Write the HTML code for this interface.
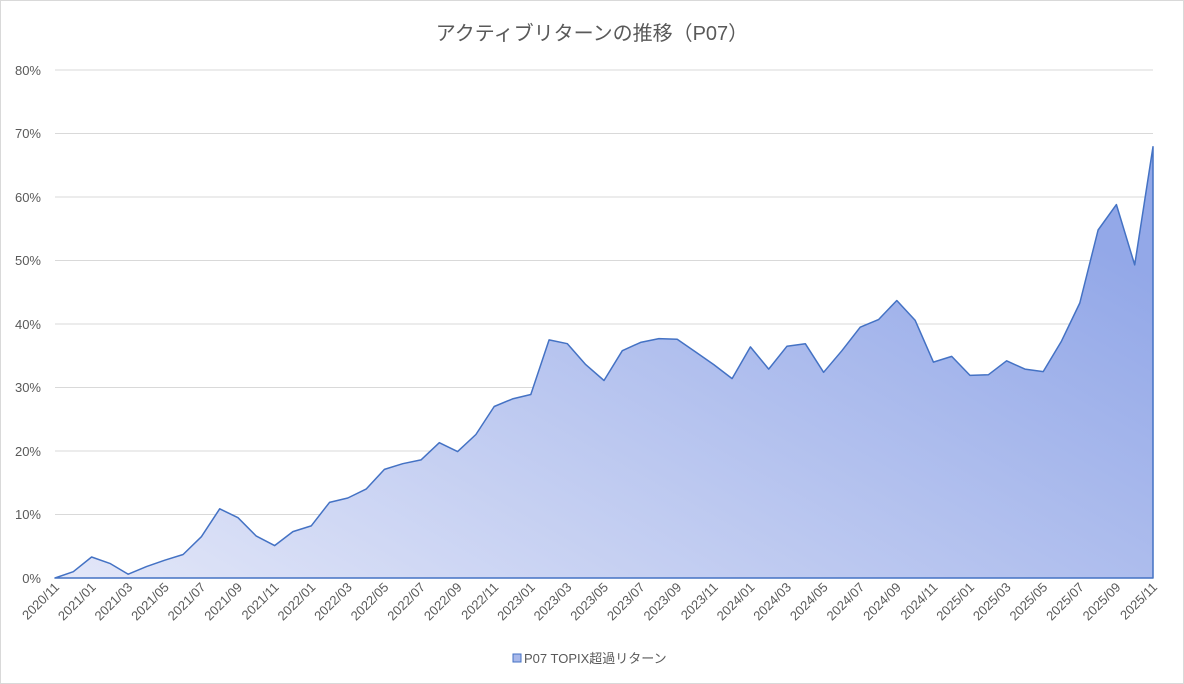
<!DOCTYPE html>
<html><head><meta charset="utf-8"><style>
html,body{margin:0;padding:0;background:#fff}
svg{display:block}
text{font-family:"Liberation Sans","Noto Sans CJK JP",sans-serif;fill:#595959}
</style></head><body>
<svg width="1184" height="684" viewBox="0 0 1184 684">
<defs><linearGradient id="g" x1="0" y1="1" x2="1" y2="0.3"><stop offset="0" stop-color="#e3e7f8"/><stop offset="1" stop-color="#93a8e8"/></linearGradient></defs>
<rect x="0.5" y="0.5" width="1183" height="683" fill="#fff" stroke="#d9d9d9"/>
<text x="592" y="40" font-size="20" text-anchor="middle">アクティブリターンの推移（P07）</text>
<g stroke="#d9d9d9" stroke-width="1">
<line x1="55" x2="1153" y1="70" y2="70"/><line x1="55" x2="1153" y1="133.5" y2="133.5"/><line x1="55" x2="1153" y1="197" y2="197"/><line x1="55" x2="1153" y1="260.5" y2="260.5"/><line x1="55" x2="1153" y1="324" y2="324"/><line x1="55" x2="1153" y1="387.5" y2="387.5"/><line x1="55" x2="1153" y1="451" y2="451"/><line x1="55" x2="1153" y1="514.5" y2="514.5"/><line x1="55" x2="1153" y1="578" y2="578"/>
</g>
<g font-size="13" text-anchor="end">
<text x="41" y="75">80%</text><text x="41" y="138">70%</text><text x="41" y="202">60%</text><text x="41" y="265">50%</text><text x="41" y="329">40%</text><text x="41" y="392">30%</text><text x="41" y="456">20%</text><text x="41" y="519">10%</text><text x="41" y="583">0%</text>
</g>
<path d="M55,578 L73.3,571.7 91.6,557 109.9,563.4 128.2,574.2 146.5,566.6 164.8,560.2 183.1,554.5 201.4,536.7 219.7,508.8 238,517.7 256.3,536.1 274.6,545.6 292.9,531.6 311.2,525.9 329.5,502.4 347.8,498 366.1,489.1 384.4,469.4 402.7,463.7 421,459.9 439.3,442.7 457.6,451.6 475.9,434.5 494.2,406.5 512.5,398.9 530.8,394.5 549.1,339.9 567.4,343.7 585.7,364.6 604,380.5 622.3,350.7 640.6,342.4 658.9,338.6 677.2,339.2 695.5,351.9 713.8,364.6 732.1,378.6 750.4,346.9 768.7,369.1 787,346.2 805.3,343.7 823.6,372.3 841.9,350.7 860.2,327.2 878.5,319.6 896.8,300.5 915.1,320.2 933.4,362.1 951.7,356.4 970,375.4 988.3,374.8 1006.6,360.8 1024.9,369.1 1043.2,371.6 1061.5,341.1 1079.8,303 1098.1,230 1116.4,204.6 1134.7,264.9 1153,146.8 L1153,578 Z" fill="url(#g)" stroke="#4472c4" stroke-width="1.5" stroke-linejoin="round"/>
<g font-size="13" text-anchor="end">
<text transform="translate(60,588) rotate(-45)">2020/11</text>
<text transform="translate(96.6,588) rotate(-45)">2021/01</text>
<text transform="translate(133.2,588) rotate(-45)">2021/03</text>
<text transform="translate(169.8,588) rotate(-45)">2021/05</text>
<text transform="translate(206.4,588) rotate(-45)">2021/07</text>
<text transform="translate(243,588) rotate(-45)">2021/09</text>
<text transform="translate(279.6,588) rotate(-45)">2021/11</text>
<text transform="translate(316.2,588) rotate(-45)">2022/01</text>
<text transform="translate(352.8,588) rotate(-45)">2022/03</text>
<text transform="translate(389.4,588) rotate(-45)">2022/05</text>
<text transform="translate(426,588) rotate(-45)">2022/07</text>
<text transform="translate(462.6,588) rotate(-45)">2022/09</text>
<text transform="translate(499.2,588) rotate(-45)">2022/11</text>
<text transform="translate(535.8,588) rotate(-45)">2023/01</text>
<text transform="translate(572.4,588) rotate(-45)">2023/03</text>
<text transform="translate(609,588) rotate(-45)">2023/05</text>
<text transform="translate(645.6,588) rotate(-45)">2023/07</text>
<text transform="translate(682.2,588) rotate(-45)">2023/09</text>
<text transform="translate(718.8,588) rotate(-45)">2023/11</text>
<text transform="translate(755.4,588) rotate(-45)">2024/01</text>
<text transform="translate(792,588) rotate(-45)">2024/03</text>
<text transform="translate(828.6,588) rotate(-45)">2024/05</text>
<text transform="translate(865.2,588) rotate(-45)">2024/07</text>
<text transform="translate(901.8,588) rotate(-45)">2024/09</text>
<text transform="translate(938.4,588) rotate(-45)">2024/11</text>
<text transform="translate(975,588) rotate(-45)">2025/01</text>
<text transform="translate(1011.6,588) rotate(-45)">2025/03</text>
<text transform="translate(1048.2,588) rotate(-45)">2025/05</text>
<text transform="translate(1084.8,588) rotate(-45)">2025/07</text>
<text transform="translate(1121.4,588) rotate(-45)">2025/09</text>
<text transform="translate(1158,588) rotate(-45)">2025/11</text>
</g>
<rect x="513" y="654" width="8" height="8" fill="#a8b8ea" stroke="#4472c4"/>
<text x="524" y="663" font-size="13">P07 TOPIX超過リターン</text>
</svg>
</body></html>
